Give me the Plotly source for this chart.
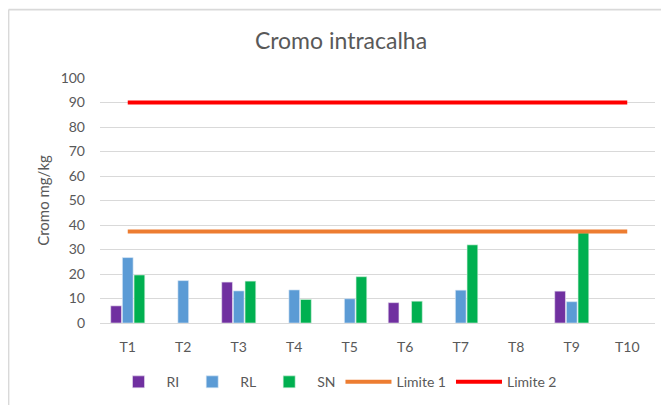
import plotly.graph_objects as go

categories = ["T1", "T2", "T3", "T4", "T5", "T6", "T7", "T8", "T9", "T10"]
ri = [7.0, None, 16.7, None, None, 8.3, None, None, 13.0, None]
rl = [26.7, 17.3, 13.1, 13.5, 9.9, None, 13.4, None, 8.7, None]
sn = [19.6, None, 17.1, 9.6, 18.9, 8.9, 31.9, None, 36.8, None]
limite1 = [37.3] * 10
limite2 = [90] * 10

FONT = "Lato"
GREY = "#595959"
OFF = 8  # page body margin offset

fig = go.Figure()
fig.add_trace(go.Bar(name="RI", x=categories, y=ri, marker=dict(color="#7030A0", line=dict(color="#e8e0f0", width=0.6))))
fig.add_trace(go.Bar(name="RL", x=categories, y=rl, marker=dict(color="#5B9BD5", line=dict(color="#dbe9f6", width=0.6))))
fig.add_trace(go.Bar(name="SN", x=categories, y=sn, marker=dict(color="#00B050", line=dict(color="#d6f2e0", width=0.6))))
fig.add_trace(go.Scatter(name="Limite 1", x=categories, y=limite1, mode="lines",
                         line=dict(color="#ED7D31", width=4)))
fig.add_trace(go.Scatter(name="Limite 2", x=categories, y=limite2, mode="lines",
                         line=dict(color="#FF0000", width=4)))

# target screen coordinates of plot area
L, R, T, B = 100, 655, 77.5, 323.5
W, H = R - L, B - T
FW, FH = 669, 405
def px(x):
    return (x - L) / W
def py(y):
    return (B - y) / H

fig.add_shape(type="line", xref="paper", yref="paper",
              x0=px(8.6), x1=px(720), y0=py(8.8), y1=py(8.8),
              line=dict(color="#d9d9d9", width=1.6))
fig.add_shape(type="line", xref="paper", yref="paper",
              x0=px(8.6), x1=px(8.6), y0=py(8.8), y1=py(440),
              line=dict(color="#d9d9d9", width=1.6))

fig.update_layout(
    width=FW, height=FH,
    margin=dict(l=L - OFF, r=FW - R + OFF, t=T - OFF, b=FH - B + OFF),
    paper_bgcolor="white", plot_bgcolor="white",
    font=dict(family=FONT, color=GREY, size=14),
    title=dict(text="Cromo intracalha", xref="container", x=(341 - OFF) / FW, xanchor="center",
               yref="container", y=1 - (41 - OFF) / FH, yanchor="middle",
               font=dict(family=FONT, size=23, color=GREY)),
    barmode="group", bargap=0.37, bargroupgap=0.08,
    showlegend=True,
    legend=dict(orientation="h", x=px(336), xanchor="center", y=py(383), yanchor="middle",
                font=dict(family=FONT, size=14, color=GREY), itemwidth=46,
                traceorder="normal"),
    xaxis=dict(showgrid=False, showline=False, ticks="", tickfont=dict(size=14, color=GREY),
               range=[-0.5, 9.5], ticklabelstandoff=14),
    yaxis=dict(range=[0, 100], dtick=10, showgrid=True, gridcolor="#d9d9d9", gridwidth=1,
               zeroline=True, zerolinecolor="#d9d9d9", zerolinewidth=1,
               tickfont=dict(size=14, color=GREY), ticks="", ticklen=0,
               ticklabelstandoff=14,
               title=dict(text="Cromo mg/kg", font=dict(size=15, color=GREY), standoff=7)),
)

fig.write_html("out.html")
